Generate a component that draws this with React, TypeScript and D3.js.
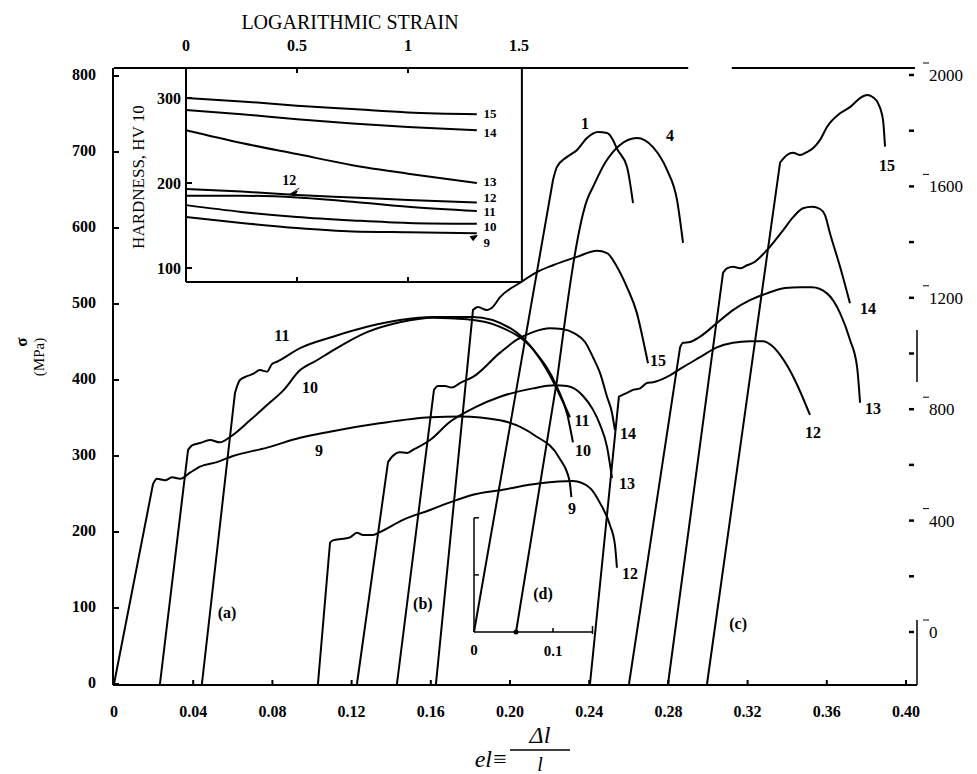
import React from 'react'
import * as d3 from 'd3'

type P = [number, number]

// engineering strain vs stress (MPa, left scale) - group (a)
const a9: P[] = [[0, 0], [0.0197, 263], [0.0217, 270], [0.0258, 268], [0.0293, 272], [0.0333, 270], [0.0384, 278], [0.0434, 286], [0.052, 292], [0.0601, 300], [0.0773, 311], [0.094, 324], [0.109, 332], [0.134, 343], [0.16, 351], [0.175, 352], [0.195, 347], [0.212, 328], [0.225, 297], [0.23, 268], [0.231, 246]]
const a10: P[] = [[0.0232, 0], [0.0374, 308], [0.0394, 314], [0.0434, 317], [0.0485, 321], [0.0535, 318], [0.0586, 325], [0.0687, 347], [0.0773, 367], [0.0854, 386], [0.094, 413], [0.1025, 426], [0.1106, 439], [0.1278, 463], [0.1444, 476], [0.1611, 482], [0.1783, 480], [0.195, 470], [0.2121, 439], [0.2237, 391], [0.229, 354], [0.2318, 318]]
const a11: P[] = [[0.0444, 0], [0.0611, 383], [0.0636, 400], [0.0672, 405], [0.0702, 408], [0.0737, 413], [0.0773, 411], [0.0798, 421], [0.0823, 424], [0.094, 442], [0.1106, 457], [0.1278, 470], [0.1444, 479], [0.1611, 483], [0.1813, 483], [0.2015, 466], [0.2187, 413], [0.2303, 351]]

// group (b)
const b12: P[] = [[0.103, 0], [0.1091, 186], [0.1106, 189], [0.1157, 191], [0.1192, 193], [0.1227, 199], [0.1258, 196], [0.1308, 196], [0.1343, 200], [0.146, 216], [0.1596, 229], [0.1697, 239], [0.1813, 249], [0.195, 255], [0.2152, 264], [0.2318, 267], [0.2404, 258], [0.2455, 238], [0.2505, 209], [0.253, 183], [0.254, 153]]
const b13: P[] = [[0.1227, 0], [0.1384, 292], [0.1404, 299], [0.1444, 305], [0.148, 304], [0.151, 308], [0.1596, 321], [0.1697, 345], [0.1823, 364], [0.195, 378], [0.2116, 389], [0.2227, 393], [0.2288, 392], [0.2369, 379], [0.2419, 361], [0.2455, 341], [0.249, 312], [0.2515, 271]]
const b14: P[] = [[0.1429, 0], [0.1616, 387], [0.1636, 392], [0.1672, 392], [0.1707, 390], [0.1747, 396], [0.1813, 404], [0.195, 436], [0.2035, 453], [0.2116, 463], [0.2202, 468], [0.2263, 467], [0.2328, 461], [0.2379, 450], [0.2419, 430], [0.2455, 409], [0.249, 378], [0.2515, 357], [0.253, 334]]
const b15: P[] = [[0.1626, 0], [0.1813, 492], [0.1838, 496], [0.1884, 492], [0.1909, 495], [0.195, 509], [0.2051, 528], [0.2136, 542], [0.2217, 551], [0.2338, 562], [0.2439, 570], [0.249, 567], [0.254, 549], [0.2591, 522], [0.2641, 488], [0.2672, 453], [0.2697, 422]]

// group (c)
const c12: P[] = [[0.2404, 0], [0.255, 378], [0.2566, 380], [0.2591, 383], [0.2621, 387], [0.2657, 389], [0.2692, 396], [0.2722, 397], [0.2793, 404], [0.2874, 417], [0.296, 430], [0.3045, 443], [0.3126, 449], [0.3212, 451], [0.3278, 451], [0.3323, 445], [0.3364, 433], [0.3404, 417], [0.3444, 397], [0.348, 376], [0.3515, 354]]
const c13: P[] = [[0.2601, 0], [0.2859, 443], [0.2874, 449], [0.2909, 450], [0.296, 457], [0.3045, 475], [0.3126, 492], [0.3212, 505], [0.3298, 514], [0.3389, 521], [0.3465, 522], [0.3525, 522], [0.3601, 514], [0.3667, 488], [0.3717, 453], [0.3753, 417], [0.3768, 370]]
const c14: P[] = [[0.2798, 0], [0.3076, 541], [0.3096, 547], [0.3126, 549], [0.3162, 547], [0.3197, 551], [0.3227, 554], [0.3298, 571], [0.3379, 597], [0.3429, 614], [0.348, 626], [0.3525, 628], [0.3566, 625], [0.3591, 617], [0.3616, 593], [0.3667, 549], [0.3717, 501]]
const c15: P[] = [[0.2995, 0], [0.3364, 686], [0.3399, 696], [0.3429, 699], [0.3465, 696], [0.35, 700], [0.353, 705], [0.3566, 716], [0.3601, 733], [0.3667, 751], [0.3717, 759], [0.3768, 771], [0.3803, 775], [0.3833, 772], [0.3859, 764], [0.3884, 742], [0.3894, 707]]

// curves 1 and 4: inset (d) strain vs right-hand stress scale
const d1: P[] = [[0, 0], [0.1, 1623], [0.105, 1670], [0.1177, 1706], [0.1304, 1731], [0.143, 1774], [0.157, 1795], [0.1684, 1792], [0.1759, 1767], [0.181, 1735], [0.1937, 1670], [0.2013, 1540]]
const d4: P[] = [[0.0532, 0], [0.1051, 905], [0.143, 1551], [0.1506, 1598], [0.1658, 1684], [0.1848, 1749], [0.2063, 1774], [0.2266, 1741], [0.2443, 1659], [0.257, 1551], [0.2646, 1397]]

// hardness inset
const hardStrain = [0, 0.25, 0.5, 0.75, 1.0, 1.31]
const hv15 = [300, 296, 291, 287, 283, 281]
const hv14 = [286, 281, 275, 270, 266, 262]
const hv13 = [262, 247, 234, 221, 211, 200]
const hv12 = [193, 190, 186, 183, 180, 177]
const hv11 = [185, 185, 183, 178, 172, 167]
const hv10 = [174, 166, 160, 156, 153, 152]
const hv9 = [160, 153, 147, 143, 142, 141]
const hardSeries = [
  { name: '15', hv: hv15, labelHv: 282 },
  { name: '14', hv: hv14, labelHv: 260 },
  { name: '13', hv: hv13, labelHv: 202 },
  { name: '12', hv: hv12, labelHv: 183 },
  { name: '11', hv: hv11, labelHv: 167 },
  { name: '10', hv: hv10, labelHv: 149 },
  { name: '9', hv: hv9, labelHv: 131 },
]

const leftTicks = [0, 100, 200, 300, 400, 500, 600, 700, 800]
const bottomTicks = [0, 0.04, 0.08, 0.12, 0.16, 0.2, 0.24, 0.28, 0.32, 0.36, 0.4]
const bottomLabels = ['0', '0.04', '0.08', '0.12', '0.16', '0.20', '0.24', '0.28', '0.32', '0.36', '0.40']
const rightLabels = [0, 400, 800, 1200, 1600, 2000]
const rightDots = [0, 200, 400, 600, 800, 1000, 1200, 1400, 1600, 1800, 2000]
const rightLine: P[] = [[-190, 43], [898, 1084]]
const topLine: P[] = [[0, 0.29], [0.312, 0.4045]]
const strainTicks = [0, 0.5, 1, 1.5]
const strainLabels = ['0', '0.5', '1', '1.5']
const hardTicks = [100, 200, 300]

// curve labels: [text, strain, stress]
const mainLabels: [string, number, number][] = [
  ['11', 0.0848, 459], ['10', 0.099, 391], ['9', 0.1035, 308],
  ['11', 0.2364, 347], ['10', 0.2369, 308], ['9', 0.2313, 232],
  ['12', 0.2606, 146], ['13', 0.2591, 264], ['14', 0.2596, 330], ['15', 0.2747, 426],
  ['12', 0.353, 332], ['13', 0.3833, 363], ['14', 0.3808, 495], ['15', 0.3904, 683],
  ['(a)', 0.0571, 95], ['(b)', 0.156, 107], ['(c)', 0.3152, 80], ['(d)', 0.2167, 120],
]
const dLabels: [string, number, number][] = [['1', 0.1405, 1828], ['4', 0.248, 1785]]

const xMain = d3.scaleLinear().domain([0, 0.4]).range([114, 906])
const yMain = d3.scaleLinear().domain([0, 800]).range([684, 76])
const yRight = d3.scaleLinear().domain([0, 2000]).range([632, 75])
const xD = d3.scaleLinear().domain([0, 0.1]).range([474, 553])
const xHard = d3.scaleLinear().domain([0, 1.5]).range([186, 519])
const yHard = d3.scaleLinear().domain([100, 300]).range([268, 98])

const mainLine = d3.line<P>().x((d) => xMain(d[0])).y((d) => yMain(d[1])).curve(d3.curveMonotoneX)
const dLine = d3.line<P>().x((d) => xD(d[0])).y((d) => yRight(d[1])).curve(d3.curveMonotoneX)
const hardLine = d3.line<number>().x((d, i) => xHard(hardStrain[i])).y((d) => yHard(d)).curve(d3.curveMonotoneX)

// elastic loading segment is straight, the rest is smoothed
function loadingPath(c: P[], line: d3.Line<P>, fx: (v: number) => number, fy: (v: number) => number) {
  const rest = line(c.slice(1)) || ''
  return `M${fx(c[0][0])},${fy(c[0][1])}L${rest.slice(1)}`
}

const serif = "'Liberation Serif', 'Times New Roman', serif"

export default function App() {
  const mainCurves = [a9, a10, a11, b12, b13, b14, b15, c12, c13, c14, c15]
  const frameTop = 68
  const frameBottom = 685
  const axisX = 113
  const rightX = 917
  const insetRight = xHard(1.513)
  const insetBottom = 282

  return (
    <svg
      width={977}
      height={774}
      style={{ position: 'absolute', left: 0, top: 0, background: '#fff' }}
      fontFamily={serif}
    >
      <rect width={977} height={774} fill="#fff" />
      <g stroke="#000" strokeWidth={2} fill="none">
        {/* main frame */}
        <line x1={axisX} x2={axisX} y1={frameTop} y2={frameBottom} />
        <line x1={axisX} x2={rightX} y1={frameBottom} y2={frameBottom} />
        {topLine.map((s, i) => (
          <line key={i} x1={xMain(s[0])} x2={xMain(s[1])} y1={frameTop} y2={frameTop} />
        ))}
        {rightLine.map((s, i) => (
          <line key={i} x1={rightX} x2={rightX} y1={yRight(s[0])} y2={yRight(s[1])} strokeWidth={1.5} />
        ))}
        {leftTicks.map((t) => (
          <line key={t} x1={axisX} x2={axisX + 6} y1={yMain(t)} y2={yMain(t)} />
        ))}
        {bottomTicks.map((t) => (
          <line key={t} x1={xMain(t)} x2={xMain(t)} y1={frameBottom} y2={frameBottom - 5} />
        ))}
        {rightDots.map((t) => (
          <line key={t} x1={909} x2={914} y1={yRight(t)} y2={yRight(t)} strokeWidth={2.5} />
        ))}
        {rightLabels.map((t) => (
          <line key={t} x1={923} x2={929} y1={yRight(t) - 12} y2={yRight(t) - 12} strokeWidth={1} />
        ))}

        {/* hardness inset frame */}
        <line x1={xHard(0)} x2={xHard(0)} y1={frameTop} y2={insetBottom} />
        <line x1={insetRight} x2={insetRight} y1={frameTop} y2={insetBottom} />
        <line x1={xHard(0)} x2={insetRight} y1={insetBottom} y2={insetBottom} />
        <line x1={xHard(0)} x2={insetRight} y1={frameTop} y2={frameTop} />
        {strainTicks.slice(1, 3).map((t) => (
          <g key={t}>
            <line x1={xHard(t)} x2={xHard(t)} y1={frameTop} y2={frameTop + 5} />
            <line x1={xHard(t)} x2={xHard(t)} y1={insetBottom} y2={insetBottom - 5} />
          </g>
        ))}
        {hardTicks.map((t) => (
          <line key={t} x1={xHard(0)} x2={xHard(0) + 6} y1={yHard(t)} y2={yHard(t)} />
        ))}
        {hardSeries.map((s) => (
          <path key={s.name} d={hardLine(s.hv) || ''} />
        ))}

        {/* inset (d) axes */}
        <line x1={xD(0)} x2={xD(0)} y1={yRight(0)} y2={yRight(410)} strokeWidth={1.5} />
        <line x1={xD(0)} x2={xD(0) + 5} y1={yRight(410)} y2={yRight(410)} strokeWidth={1.5} />
        <line x1={xD(0)} x2={xD(0) + 5} y1={yRight(205)} y2={yRight(205)} strokeWidth={1.5} />
        <line x1={xD(0)} x2={xD(0.15)} y1={yRight(0)} y2={yRight(0)} strokeWidth={1.5} />
        <line x1={xD(0.1)} x2={xD(0.1)} y1={yRight(0)} y2={yRight(0) - 4} strokeWidth={1.5} />
        <line x1={xD(0.15)} x2={xD(0.15)} y1={yRight(0) + 2} y2={yRight(0) - 6} strokeWidth={1.5} />

        {/* stress-strain curves */}
        {mainCurves.map((c, i) => (
          <path key={i} d={loadingPath(c, mainLine, xMain, yMain)} />
        ))}
        <path d={loadingPath(d1, dLine, xD, yRight)} />
        <path d={loadingPath(d4, dLine, xD, yRight)} />
      </g>
      <circle cx={xD(d4[0][0])} cy={yRight(0)} r={2.5} fill="#000" />

      {/* small arrows in hardness inset */}
      <path
        d={`M${xHard(0.47)},${yHard(187)} l7,-3 l-3,5 z M${xHard(0.47)},${yHard(187)} l9,-6`}
        fill="#000"
        stroke="#000"
        strokeWidth={1}
      />
      <path
        d={`M${xHard(1.28)},${yHard(137)} l7,-1 l-4,5 z`}
        fill="#000"
        stroke="#000"
        strokeWidth={1}
      />

      {/* tick labels */}
      <g fontWeight="bold" fontSize={16} fill="#000">
        {leftTicks.map((t) => (
          <text key={t} x={96} y={yMain(t) + 4} textAnchor="end">
            {t}
          </text>
        ))}
        {bottomTicks.map((t, i) => (
          <text key={t} x={xMain(t)} y={717} textAnchor="middle">
            {bottomLabels[i]}
          </text>
        ))}
        {strainTicks.map((t, i) => (
          <text key={t} x={xHard(t)} y={51} textAnchor="middle">
            {strainLabels[i]}
          </text>
        ))}
        {hardTicks.map((t) => (
          <text key={t} x={181} y={yHard(t) + 6} textAnchor="end">
            {t}
          </text>
        ))}
        <text x={xD(0)} y={655} textAnchor="middle" fontSize={15}>0</text>
        <text x={xD(0.1)} y={656} textAnchor="middle" fontSize={15}>0.1</text>
      </g>
      <g fontSize={17} fill="#000">
        {rightLabels.map((t) => (
          <text key={t} x={929} y={yRight(t) + 6}>
            {t}
          </text>
        ))}
      </g>

      {/* curve labels */}
      <g fontWeight="bold" fontSize={16} fill="#000" textAnchor="middle">
        {mainLabels.map(([t, e, s], i) => (
          <text key={i} x={xMain(e)} y={yMain(s) + 6}>
            {t}
          </text>
        ))}
        {dLabels.map(([t, e, s], i) => (
          <text key={i} x={xD(e)} y={yRight(s) + 6}>
            {t}
          </text>
        ))}
      </g>
      <g fontWeight="bold" fontSize={13} fill="#000">
        {hardSeries.map((s) => (
          <text key={s.name} x={xHard(1.34)} y={yHard(s.labelHv) + 5}>
            {s.name}
          </text>
        ))}
        <text x={xHard(0.465)} y={yHard(203) + 5} textAnchor="middle" fontSize={14}>12</text>
      </g>

      {/* axis titles */}
      <text x={350} y={29} textAnchor="middle" fontSize={20} fill="#000">
        LOGARITHMIC STRAIN
      </text>
      <text transform="translate(144,177) rotate(-90)" textAnchor="middle" fontSize={17} fill="#000">
        HARDNESS, HV 10
      </text>
      <text transform="translate(27,342) rotate(-90)" textAnchor="middle" fontSize={17} fontWeight="bold" fill="#000">
        σ
      </text>
      <text transform="translate(44,357) rotate(-90)" textAnchor="middle" fontSize={15} fill="#000">
        (MPa)
      </text>
      <g fill="#000" fontStyle="italic" fontSize={24}>
        <text x={492} y={767} textAnchor="end">el</text>
        <text x={500} y={767} textAnchor="middle" fontStyle="normal">≡</text>
        <text x={540} y={743} textAnchor="middle">Δl</text>
        <text x={540} y={771} textAnchor="middle" fontSize={20}>l</text>
      </g>
      <line x1={510} x2={570} y1={750} y2={750} stroke="#000" strokeWidth={1.5} />
    </svg>
  )
}
